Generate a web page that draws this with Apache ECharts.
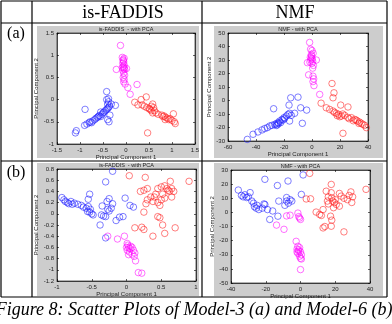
<!DOCTYPE html>
<html>
<head>
<meta charset="utf-8">
<script src="https://cdn.jsdelivr.net/npm/echarts@6/dist/echarts.min.js"></script>
<style>
  html, body { margin: 0; padding: 0; background: #fff; }
  #chart { width: 392px; height: 324px; }
</style>
</head>
<body>
<div id="chart"></div>
<script>
// panel (a) is-FADDIS, model-3
const faddisA_blue = [[-1.10,-0.75],[-1.08,-0.70],[-0.90,-0.58],[-0.85,-0.55],[-0.80,-0.52],[-0.78,-0.50],[-0.75,-0.52],[-0.72,-0.48],[-0.68,-0.45],[-0.65,-0.42],[-0.62,-0.40],[-0.60,-0.38],[-0.58,-0.36],[-0.55,-0.38],[-0.52,-0.33],[-0.50,-0.30],[-0.48,-0.28],[-0.45,-0.25],[-0.42,-0.22],[-0.40,-0.20],[-0.38,-0.18],[-0.36,-0.15],[-0.40,-0.10],[-0.38,-0.05],[-0.42,0.00],[-0.38,0.02],[-0.42,0.18],[-0.32,-0.10],[-0.23,-0.13],[-0.89,-0.22],[-0.40,-0.45],[-0.37,-0.50],[-0.35,-0.35],[-0.55,-0.28]]
const faddisA_magenta = [[-0.12,1.22],[-0.08,0.95],[-0.06,0.90],[-0.05,0.85],[-0.07,0.82],[-0.04,0.78],[-0.06,0.75],[-0.08,0.72],[-0.05,0.70],[-0.03,0.68],[-0.07,0.66],[-0.04,0.72],[-0.21,0.68],[0.01,0.70],[-0.05,0.60],[-0.03,0.55],[-0.06,0.50],[-0.04,0.45],[-0.05,0.40],[-0.02,0.35],[0.04,0.27],[0.09,0.12],[0.24,0.34],[-0.06,0.88],[-0.04,0.93]]
const faddisA_red = [[0.19,-0.06],[0.33,0.00],[0.44,0.06],[0.26,-0.12],[0.35,-0.12],[0.40,-0.15],[0.45,-0.18],[0.50,-0.20],[0.55,-0.15],[0.58,-0.10],[0.60,-0.18],[0.55,-0.25],[0.62,-0.25],[0.58,-0.30],[0.52,-0.22],[0.65,-0.30],[0.70,-0.33],[0.78,-0.35],[0.80,-0.38],[0.83,-0.37],[0.86,-0.40],[0.90,-0.42],[0.93,-0.45],[0.96,-0.43],[1.00,-0.47],[1.05,-0.50],[1.07,-0.54],[1.03,-0.32],[0.47,-0.75],[0.85,-0.45]]

// panel (a) NMF
const nmfA_blue = [[-46.2,-28.8],[-42.1,-25.0],[-38.6,-23.3],[-35.7,-21.8],[-33.8,-20.8],[-31.9,-20.1],[-30.2,-18.9],[-28.6,-18.4],[-26.7,-17.7],[-25.5,-17.2],[-24.3,-16.4],[-23.1,-15.2],[-21.4,-14.0],[-20.0,-12.7],[-18.3,-11.5],[-17.1,-10.3],[-16.0,-9.5],[-14.8,-11.0],[-16.0,-15.2],[-15.2,2.0],[-16.4,-3.4],[-10.0,2.5],[-8.1,-5.4],[-3.8,-7.1],[-6.9,-16.9],[-27.4,-6.1],[-12.4,-9.5],[-25.5,-18.5],[-24.8,-18.0],[-23.8,-17.0],[-22.4,-16.4],[-20.8,-14.5],[-19.6,-13.5]]
const nmfA_magenta = [[-1.7,43],[-1.0,38],[0.0,37],[-0.5,34],[-1.2,32],[0.2,31],[-0.8,30],[0.5,29],[-1.5,28.5],[0.0,27.5],[-3.3,28],[3.1,30],[1.0,26],[0.5,24],[-2.4,19],[0.7,18],[1.2,16],[0.7,14],[1.4,11],[5.5,4.5],[-0.3,33],[0.8,35],[-0.5,31.5]]
const nmfA_red = [[6.5,-2],[14.3,12.6],[15.7,5.7],[15.0,2.0],[20.5,-3.4],[25.7,-4.8],[22.1,-24.3],[10.2,-5.4],[12.6,-6.6],[15.0,-7.8],[17.4,-9.5],[19.0,-10.3],[21.0,-11.5],[23.3,-11.0],[25.5,-12.5],[28.1,-12.7],[30.5,-14.0],[32.4,-15.2],[34.0,-16.0],[35.2,-16.9],[36.4,-17.7],[37.6,-18.4],[38.8,-20.1],[16.0,-8.8],[18.0,-11.2],[19.8,-12.0],[22.0,-10.0],[26.5,-13.5],[29.5,-15.0],[31.5,-14.5],[33.5,-17.0]]

// panel (b) is-FADDIS, model-6
const faddisB_blue = [[-0.93,0.29],[-0.90,0.25],[-0.88,0.22],[-0.85,0.20],[-0.83,0.18],[-0.80,0.22],[-0.78,0.17],[-0.75,0.19],[-0.70,0.17],[-0.65,0.15],[-0.62,0.12],[-0.58,0.10],[-0.55,0.13],[-0.52,0.08],[-0.56,0.04],[-0.53,0.03],[-0.50,0.00],[-0.48,-0.02],[-0.55,0.26],[-0.53,0.35],[-0.36,-0.02],[-0.33,-0.04],[-0.30,-0.05],[-0.28,0.22],[-0.25,0.27],[-0.22,0.10],[-0.20,0.18],[-0.25,0.05],[-0.27,0.08],[-0.30,0.57],[-0.20,0.76],[-0.38,-0.20],[-0.30,-0.43],[-0.15,-0.12],[-0.10,-0.06],[-0.05,-0.05],[-0.02,0.28],[0.05,0.15],[0.10,0.12],[-0.35,0.14]]
const faddisB_magenta = [[-0.27,-0.40],[-0.13,-0.45],[-0.03,-0.40],[0.01,-0.53],[0.02,-0.56],[0.03,-0.60],[0.05,-0.62],[0.01,-0.65],[0.04,-0.68],[0.08,-0.60],[0.10,-0.65],[0.08,-0.72],[0.03,-0.73],[0.12,-0.70],[0.11,-0.76],[0.13,-0.84],[0.17,-1.05],[0.22,-1.06],[0.06,-0.58],[0.00,-0.60]]
const faddisB_red = [[0.04,0.68],[0.27,0.65],[0.20,0.40],[0.25,0.42],[0.30,0.45],[0.35,0.30],[0.30,0.25],[0.28,0.18],[0.25,0.03],[0.38,0.22],[0.40,0.30],[0.45,0.45],[0.50,0.48],[0.55,0.50],[0.58,0.45],[0.60,0.42],[0.62,0.40],[0.63,0.58],[0.65,0.45],[0.68,0.40],[0.55,0.28],[0.50,0.25],[0.52,0.35],[0.45,0.20],[0.48,0.15],[0.45,-0.05],[0.48,-0.07],[0.52,-0.20],[0.55,-0.35],[0.38,-0.40],[0.25,-0.28],[0.22,-0.24],[0.12,-0.25],[0.70,-0.25],[0.90,0.58],[0.42,0.35],[0.65,0.30]]

// panel (b) NMF
const nmfB_blue = [[-35.8,15.8],[-34,12],[-33,11],[-32,12.5],[-31,10.5],[-30,11],[-29,14],[-28,8],[-27,6.5],[-26.5,4],[-25.5,3],[-25,5],[-24,2],[-22,3],[-21,6],[-20.5,5.5],[-19,2],[-17.7,-5],[-20.5,23.4],[-13.3,19],[-12.5,8],[-13,-2.7],[-7.2,22.2],[-8,10.5],[-7,6.5],[-6,9],[-5,8],[0.5,12.7],[1.5,26.5],[-9,5],[-8,8],[-16,1]]
const nmfB_magenta = [[-13.8,-9],[-9.5,-12],[-8,-2.5],[-6,-2],[-1.5,-0.5],[-1,-3],[0,-5],[-0.5,-4],[-2.5,-20.5],[-1.5,-24],[-2,-26],[-0.5,-25],[-1,-27.5],[0,-28],[-1.5,-29],[0.5,-30],[-0.5,-31],[0,-32.5],[0.5,-33],[-1,-26.5],[0,-40.5],[-2,-28]]
const nmfB_red = [[5.3,27.6],[3.3,9.5],[5.8,9.6],[9,0.2],[11,-1.5],[12,-2.2],[13,2],[13,-11],[14,-10],[14.8,15],[15.5,8],[16,6],[17.7,19.8],[17.7,13.9],[18,10.4],[18.5,8],[19,3.3],[17.3,-2.7],[18,-5.5],[17.7,-9.8],[20,9],[22.4,13.4],[23.4,11.5],[25,10],[27,9],[28,12],[29,14.5],[29.5,7],[30,11],[37.7,16.3],[22.4,4.4],[25,-13.8],[20.6,5.6],[16,11],[19.5,7]]

const panels = [
  { title: 'is-FADDIS  - with PCA', grid: { left: 57, top: 33, width: 138, height: 111 },
    x: [-1.5, 1.5, 0.5], y: [-1, 1.5, 0.5], sets: [faddisA_blue, faddisA_magenta, faddisA_red] },
  { title: 'NMF - with PCA', grid: { left: 228, top: 33, width: 140, height: 108 },
    x: [-60, 40, 20], y: [-30, 50, 10], sets: [nmfA_blue, nmfA_magenta, nmfA_red] },
  { title: 'is-FADDIS  - with PCA', grid: { left: 57, top: 169, width: 139, height: 112 },
    x: [-1, 1, 0.5], y: [-1.2, 0.8, 0.2], sets: [faddisB_blue, faddisB_magenta, faddisB_red] },
  { title: 'NMF - with PCA', grid: { left: 231, top: 170, width: 139, height: 113 },
    x: [-40, 40, 20], y: [-50, 30, 10], sets: [nmfB_blue, nmfB_magenta, nmfB_red] }
]
const colors = ['#1a1aff', '#ff00ff', '#ff1a1a']
const gray = '#cdcdcd'

const chart = echarts.init(document.getElementById('chart'))

const grids = []
const xAxes = []
const yAxes = []
const series = []
const titles = []
const lbl = { fontSize: 6, color: '#222', fontFamily: 'Liberation Sans', margin: 3 }
const tick = { inside: true, length: 2, lineStyle: { color: '#000', width: 0.6 } }
const line = { show: true, onZero: false, lineStyle: { color: '#000', width: 0.6 } }

panels.forEach((p, i) => {
  grids.push(Object.assign({ show: true, backgroundColor: '#fff', borderColor: '#000', borderWidth: 0.6 }, p.grid))
  titles.push({
    text: p.title, left: p.grid.left + p.grid.width / 2, top: p.grid.top - 7, textAlign: 'center', padding: 0,
    textStyle: { fontSize: 5.5, fontWeight: 'normal', color: '#222', fontFamily: 'Liberation Sans' }
  })
  // bottom / left axes with labels
  xAxes.push({
    gridIndex: i, type: 'value', min: p.x[0], max: p.x[1], interval: p.x[2],
    name: 'Principal Component 1', nameLocation: 'middle', nameGap: 9,
    nameTextStyle: { fontSize: 6, color: '#222', fontFamily: 'Liberation Sans' },
    axisLine: line, axisTick: tick, axisLabel: lbl, splitLine: { show: false }
  })
  yAxes.push({
    gridIndex: i, type: 'value', min: p.y[0], max: p.y[1], interval: p.y[2],
    name: 'Principal Component 2', nameLocation: 'middle', nameGap: 14, nameRotate: 90,
    nameTextStyle: { fontSize: 6, color: '#222', fontFamily: 'Liberation Sans' },
    axisLine: line, axisTick: tick, axisLabel: lbl, splitLine: { show: false }
  })
  // top / right mirror axes, ticks only
  xAxes.push({
    gridIndex: i, type: 'value', position: 'top', min: p.x[0], max: p.x[1], interval: p.x[2],
    axisLine: line, axisTick: tick, axisLabel: { show: false }, splitLine: { show: false }
  })
  yAxes.push({
    gridIndex: i, type: 'value', position: 'right', min: p.y[0], max: p.y[1], interval: p.y[2],
    axisLine: line, axisTick: tick, axisLabel: { show: false }, splitLine: { show: false }
  })
  p.sets.forEach((d, k) => {
    series.push({
      type: 'scatter', xAxisIndex: i * 2, yAxisIndex: i * 2, data: d,
      symbol: 'circle', symbolSize: 6.5, silent: true,
      itemStyle: { color: 'transparent', borderColor: colors[k], borderWidth: 0.7 }
    })
  })
})

// table frame, gray figure backgrounds, headers and caption
const L = (x1, y1, x2, y2) => ({ type: 'line', shape: { x1, y1, x2, y2 }, style: { stroke: '#000', lineWidth: 1.2 }, z: 10 })
const R = (x, y, w, h) => ({ type: 'rect', shape: { x, y, width: w, height: h }, style: { fill: gray }, z: -10 })
const T = (text, x, y, size, italic) => ({
  type: 'text', x, y, z: 10,
  style: { text, fontSize: size, fontFamily: 'Liberation Serif', fontStyle: italic ? 'italic' : 'normal',
    fill: '#000', align: 'center', verticalAlign: 'middle' }
})

const graphic = [
  R(37, 26, 162, 132), R(214, 26, 169, 132), R(37, 163, 162, 133), R(214, 163, 169, 133),
  L(1, 1, 387, 1), L(1, 23, 387, 23), L(1, 161, 387, 161), L(1, 297, 387, 297),
  L(1, 1, 1, 297), L(32, 1, 32, 297), L(202, 1, 202, 297), L(387, 1, 387, 297),
  T('is-FADDIS', 123, 13, 18), T('NMF', 295, 13, 18),
  T('(a)', 16, 34, 16), T('(b)', 16, 173, 16),
  T('Figure 8: Scatter Plots of Model-3 (a) and Model-6 (b)', 194, 310, 18, true)
]

chart.setOption({
  animation: false,
  backgroundColor: '#fff',
  title: titles,
  grid: grids,
  xAxis: xAxes,
  yAxis: yAxes,
  series: series,
  graphic: graphic
})
</script>
</body>
</html>
